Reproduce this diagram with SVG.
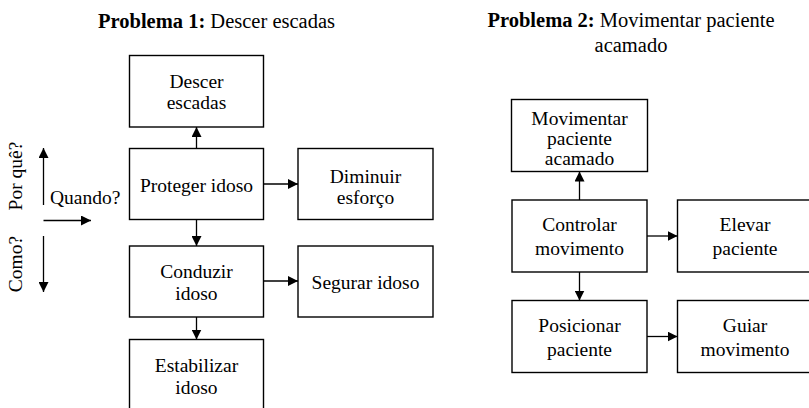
<svg xmlns="http://www.w3.org/2000/svg" width="809" height="408" viewBox="0 0 809 408">
<style>
text{font-family:"Liberation Serif","Times New Roman",serif;fill:#000;}
.t{font-size:20.5px;}
.b{font-weight:bold;}
.n{font-size:19.5px;text-anchor:middle;}
.s{font-size:19.5px;}
rect.box{fill:#fff;stroke:#000;stroke-width:1.4;}
.conn path{fill:none;stroke:#000;stroke-width:1.3;marker-end:url(#ah);}
</style>
<defs>
<marker id="ah" markerUnits="userSpaceOnUse" markerWidth="10" markerHeight="10" refX="10" refY="5" orient="auto">
<path d="M0,0 L10,5 L0,10 z" fill="#000"/>
</marker>
</defs>
<rect width="809" height="408" fill="#fff"/>
<g id="title1"><text class="t" x="98" y="27.5"><tspan class="b">Problema 1:</tspan> Descer escadas</text></g>
<g id="title2"><text class="t" x="631" y="27" text-anchor="middle"><tspan class="b">Problema 2:</tspan> Movimentar paciente</text><text class="t" x="631" y="51.5" text-anchor="middle">acamado</text></g>
<g id="axis">
<text class="s" transform="translate(22,176) rotate(-90)" text-anchor="middle">Por quê?</text>
<text class="s" transform="translate(22,264) rotate(-90)" text-anchor="middle">Como?</text>
<text class="s" x="50" y="204">Quando?</text>
</g>
<g id="n-descer"><rect class="box" x="129.5" y="55.5" width="134" height="71.5"/><text class="n" x="196.5" y="87.5">Descer</text><text class="n" x="196.5" y="109">escadas</text></g>
<g id="n-proteger"><rect class="box" x="129.5" y="148.5" width="134" height="71"/><text class="n" x="196.5" y="191.5">Proteger idoso</text></g>
<g id="n-diminuir"><rect class="box" x="298" y="148.5" width="135" height="71"/><text class="n" x="365.5" y="182.5">Diminuir</text><text class="n" x="365.5" y="203.5">esforço</text></g>
<g id="n-conduzir"><rect class="box" x="129.5" y="246" width="134" height="71"/><text class="n" x="196.5" y="277.5">Conduzir</text><text class="n" x="196.5" y="299.5">idoso</text></g>
<g id="n-segurar"><rect class="box" x="298" y="246" width="135" height="71"/><text class="n" x="365.5" y="289">Segurar idoso</text></g>
<g id="n-estabilizar"><rect class="box" x="129.5" y="339.5" width="134" height="75"/><text class="n" x="196.5" y="372">Estabilizar</text><text class="n" x="196.5" y="394">idoso</text></g>
<g id="n-movimentar"><rect class="box" x="511.5" y="99.5" width="136" height="72"/><text class="n" x="579.5" y="124.5">Movimentar</text><text class="n" x="579.5" y="145">paciente</text><text class="n" x="579.5" y="165">acamado</text></g>
<g id="n-controlar"><rect class="box" x="512" y="200" width="135" height="72"/><text class="n" x="579.5" y="231">Controlar</text><text class="n" x="579.5" y="255">movimento</text></g>
<g id="n-elevar"><rect class="box" x="677.5" y="200" width="135" height="72"/><text class="n" x="745" y="231">Elevar</text><text class="n" x="745" y="255">paciente</text></g>
<g id="n-posicionar"><rect class="box" x="512" y="300.5" width="135" height="72"/><text class="n" x="579.5" y="332">Posicionar</text><text class="n" x="579.5" y="356">paciente</text></g>
<g id="n-guiar"><rect class="box" x="677.5" y="300.5" width="135" height="72"/><text class="n" x="745" y="332">Guiar</text><text class="n" x="745" y="356">movimento</text></g>
<g id="connectors" class="conn">
<path d="M43.5,205 L43.5,148"/>
<path d="M43.5,220.5 L91,220.5"/>
<path d="M43.5,236 L43.5,292"/>
<path d="M196.5,148.5 L196.5,127"/>
<path d="M263.5,184 L298,184"/>
<path d="M196.5,219.5 L196.5,246"/>
<path d="M263.5,281 L298,281"/>
<path d="M196.5,317 L196.5,339.5"/>
<path d="M579.5,200 L579.5,171.5"/>
<path d="M647,236 L677.5,236"/>
<path d="M579.5,272 L579.5,300.5"/>
<path d="M647,336.5 L677.5,336.5"/>
</g>
</svg>
